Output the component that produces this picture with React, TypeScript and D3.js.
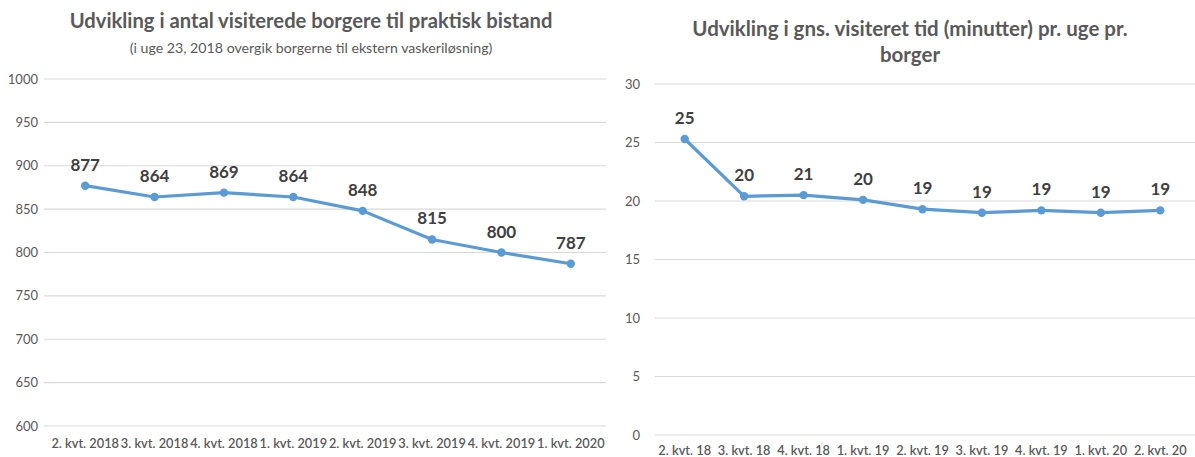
import React from "react";
import * as d3 from "d3";

const leftCategories = ["2. kvt. 2018", "3. kvt. 2018", "4. kvt. 2018", "1. kvt. 2019", "2. kvt. 2019", "3. kvt. 2019", "4. kvt. 2019", "1. kvt. 2020"];
const leftValues = [877, 864, 869, 864, 848, 815, 800, 787];
const leftTicks = [600, 650, 700, 750, 800, 850, 900, 950, 1000];

const rightCategories = ["2. kvt. 18", "3. kvt. 18", "4. kvt. 18", "1. kvt. 19", "2. kvt. 19", "3. kvt. 19", "4. kvt. 19", "1. kvt. 20", "2. kvt. 20"];
const rightValues = [25.3, 20.4, 20.5, 20.1, 19.3, 19.0, 19.2, 19.0, 19.2];
const rightTicks = [0, 5, 10, 15, 20, 25, 30];

const FONT = "Lato, 'Open Sans', sans-serif";
const LINE = "#5B9BD5";
const GRID = "#d9d9d9";
const TXT = "#595959";

function Panel({ cats, vals, ticks, yDomain, xRange, yRange, gridX, tickX, fmt, labelSize, catSize, catDy }: any) {
  const x = d3.scaleBand().domain(cats).range(xRange);
  const y = d3.scaleLinear().domain(yDomain).range(yRange);
  const cx = (c: string) => (x(c) as number) + x.bandwidth() / 2;
  const line = d3.line<number>().x((_, i) => cx(cats[i])).y((v) => y(v));
  return (
    <g fontFamily={FONT}>
      {ticks.map((t: number) => (
        <g key={t}>
          <line x1={gridX[0]} x2={gridX[1]} y1={y(t)} y2={y(t)} stroke={GRID} strokeWidth={1.2} />
          <text x={tickX} y={y(t)} dy="0.35em" textAnchor="end" fontSize={13} fill={TXT}>{t}</text>
        </g>
      ))}
      {cats.map((c: string) => (
        <text key={c} x={cx(c)} y={yRange[0] + catDy} textAnchor="middle" fontSize={catSize} fontWeight={600} fill={TXT}>{c}</text>
      ))}
      <path d={line(vals) || ""} fill="none" stroke={LINE} strokeWidth={3.2} strokeLinejoin="round" />
      {vals.map((v: number, i: number) => (
        <g key={i}>
          <circle cx={cx(cats[i])} cy={y(v)} r={4.2} fill={LINE} />
          <text x={cx(cats[i])} y={y(v) - 15} textAnchor="middle" fontSize={labelSize} fontWeight="bold" fill="#404040">{fmt(v)}</text>
        </g>
      ))}
    </g>
  );
}

export default function App() {
  const f0 = d3.format(".0f");
  return (
    <svg width={1195} height={457} style={{ position: "absolute", left: 0, top: 0, background: "#fff" }}>
      <rect width={1195} height={457} fill="#fff" />
      <text x={311} y={28} textAnchor="middle" fontFamily={FONT} fontSize={20.2} fontWeight="bold" fill={TXT}>Udvikling i antal visiterede borgere til praktisk bistand</text>
      <text x={311} y={53} textAnchor="middle" fontFamily={FONT} fontSize={14.2} fill={TXT}>(i uge 23, 2018 overgik borgerne til ekstern vaskeriløsning)</text>
      <Panel cats={leftCategories} vals={leftValues} ticks={leftTicks} yDomain={[600, 1000]} xRange={[50.5, 605.5]} yRange={[426, 79]} gridX={[44, 606]} tickX={38} fmt={f0} labelSize={17} catSize={12.8} catDy={22} />
      <text x={910} y={36} textAnchor="middle" fontFamily={FONT} fontSize={20.5} fontWeight="bold" fill={TXT}>Udvikling i gns. visiteret tid (minutter) pr. uge pr.</text>
      <text x={910} y={62} textAnchor="middle" fontFamily={FONT} fontSize={20.5} fontWeight="bold" fill={TXT}>borger</text>
      <Panel cats={rightCategories} vals={rightValues} ticks={rightTicks} yDomain={[0, 30]} xRange={[655, 1190]} yRange={[435, 84]} gridX={[655, 1195]} tickX={640} fmt={f0} labelSize={17} catSize={12.8} catDy={20} />
    </svg>
  );
}
